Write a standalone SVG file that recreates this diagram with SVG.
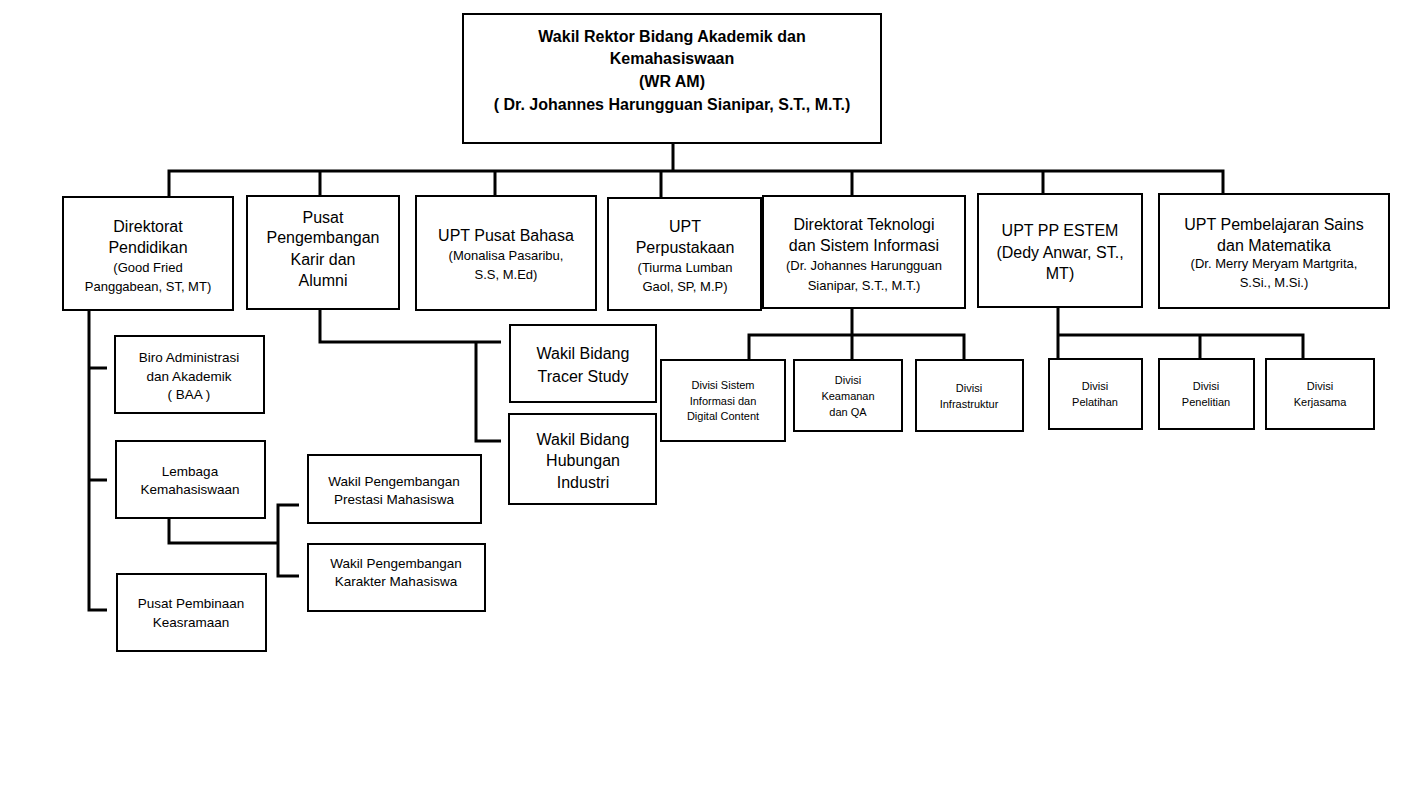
<svg xmlns="http://www.w3.org/2000/svg" width="1409" height="798" viewBox="0 0 1409 798">
<style>
.box{fill:#fff;stroke:#000;stroke-width:2}
.ln{fill:none;stroke:#000;stroke-width:3}
text{font-family:"Liberation Sans",Arial,sans-serif;fill:#000;text-anchor:middle}
.t{font-size:16px}
.b{font-size:16px;font-weight:bold}
.s{font-size:13px}
.m{font-size:13.5px}
.d{font-size:11px}
</style>
<rect x="0" y="0" width="1409" height="798" fill="#fff"/>
<g id="connectors">
<path class="ln" d="M673 143V171M169 197V171H1223V194M320 171V196M495 171V196M661 171V198M852 171V196M1043 171V194"/>
<path class="ln" d="M89 310V610H107M89 368H107M89 480H107"/>
<path class="ln" d="M169 518V543H278M299 505H278V576H299"/>
<path class="ln" d="M320 309V342H501M476 342V441H501"/>
<path class="ln" d="M852 308V335M749 359V335H964V360M852 335V360"/>
<path class="ln" d="M1058 307V358M1058 335H1303V358M1200 335V358"/>
</g>
<g id="wr-am">
<rect class="box" x="463" y="14" width="418" height="129"/>
<text class="b" x="672" y="42">Wakil Rektor Bidang Akademik dan</text>
<text class="b" x="672" y="64">Kemahasiswaan</text>
<text class="b" x="672" y="87">(WR AM)</text>
<text class="b" x="672" y="110">( Dr. Johannes Harungguan Sianipar, S.T., M.T.)</text>
</g>
<g id="dir-pendidikan">
<rect class="box" x="63" y="197" width="170" height="113"/>
<text class="t" x="148" y="232">Direktorat</text>
<text class="t" x="148" y="253">Pendidikan</text>
<text class="s" x="148" y="272">(Good Fried</text>
<text class="s" x="148" y="291">Panggabean, ST, MT)</text>
</g>
<g id="pusat-karir">
<rect class="box" x="247" y="196" width="152" height="113"/>
<text class="t" x="323" y="223">Pusat</text>
<text class="t" x="323" y="243">Pengembangan</text>
<text class="t" x="323" y="265">Karir dan</text>
<text class="t" x="323" y="286">Alumni</text>
</g>
<g id="upt-bahasa">
<rect class="box" x="416" y="196" width="180" height="114"/>
<text class="t" x="506" y="241">UPT Pusat Bahasa</text>
<text class="s" x="506" y="260">(Monalisa Pasaribu,</text>
<text class="s" x="506" y="279">S.S, M.Ed)</text>
</g>
<g id="upt-perpustakaan">
<rect class="box" x="608" y="198" width="153" height="112"/>
<text class="t" x="685" y="232">UPT</text>
<text class="t" x="685" y="253">Perpustakaan</text>
<text class="s" x="685" y="272">(Tiurma Lumban</text>
<text class="s" x="685" y="291">Gaol, SP, M.P)</text>
</g>
<g id="dir-teknologi">
<rect class="box" x="763" y="196" width="202" height="112"/>
<text class="t" x="864" y="230">Direktorat Teknologi</text>
<text class="t" x="864" y="251">dan Sistem Informasi</text>
<text class="s" x="864" y="270">(Dr. Johannes Harungguan</text>
<text class="s" x="864" y="290">Sianipar, S.T., M.T.)</text>
</g>
<g id="upt-estem">
<rect class="box" x="978" y="194" width="164" height="113"/>
<text class="t" x="1060" y="236">UPT PP ESTEM</text>
<text class="t" x="1060" y="258">(Dedy Anwar, ST.,</text>
<text class="t" x="1060" y="279">MT)</text>
</g>
<g id="upt-sains">
<rect class="box" x="1159" y="194" width="230" height="114"/>
<text class="t" x="1274" y="230">UPT Pembelajaran Sains</text>
<text class="t" x="1274" y="251">dan Matematika</text>
<text class="s" x="1274" y="268">(Dr. Merry Meryam Martgrita,</text>
<text class="s" x="1274" y="287">S.Si., M.Si.)</text>
</g>
<g id="baa">
<rect class="box" x="115" y="336" width="149" height="77"/>
<text class="m" x="189" y="362">Biro Administrasi</text>
<text class="m" x="189" y="381">dan Akademik</text>
<text class="m" x="189" y="399">( BAA )</text>
</g>
<g id="lembaga">
<rect class="box" x="116" y="441" width="149" height="77"/>
<text class="m" x="190" y="476">Lembaga</text>
<text class="m" x="190" y="494">Kemahasiswaan</text>
</g>
<g id="keasramaan">
<rect class="box" x="117" y="574" width="149" height="77"/>
<text class="m" x="191" y="608">Pusat Pembinaan</text>
<text class="m" x="191" y="627">Keasramaan</text>
</g>
<g id="wakil-prestasi">
<rect class="box" x="308" y="455" width="173" height="68"/>
<text class="m" x="394" y="486">Wakil Pengembangan</text>
<text class="m" x="394" y="504">Prestasi Mahasiswa</text>
</g>
<g id="wakil-karakter">
<rect class="box" x="308" y="544" width="177" height="67"/>
<text class="m" x="396" y="568">Wakil Pengembangan</text>
<text class="m" x="396" y="586">Karakter Mahasiswa</text>
</g>
<g id="wakil-tracer">
<rect class="box" x="510" y="325" width="146" height="77"/>
<text class="t" x="583" y="359">Wakil Bidang</text>
<text class="t" x="583" y="382">Tracer Study</text>
</g>
<g id="wakil-industri">
<rect class="box" x="509" y="414" width="147" height="90"/>
<text class="t" x="583" y="445">Wakil Bidang</text>
<text class="t" x="583" y="466">Hubungan</text>
<text class="t" x="583" y="488">Industri</text>
</g>
<g id="div-si">
<rect class="box" x="661" y="360" width="124" height="81"/>
<text class="d" x="723" y="389">Divisi Sistem</text>
<text class="d" x="723" y="405">Informasi dan</text>
<text class="d" x="723" y="420">Digital Content</text>
</g>
<g id="div-keamanan">
<rect class="box" x="794" y="360" width="108" height="71"/>
<text class="d" x="848" y="384">Divisi</text>
<text class="d" x="848" y="400">Keamanan</text>
<text class="d" x="848" y="416">dan QA</text>
</g>
<g id="div-infrastruktur">
<rect class="box" x="916" y="360" width="107" height="71"/>
<text class="d" x="969" y="392">Divisi</text>
<text class="d" x="969" y="408">Infrastruktur</text>
</g>
<g id="div-pelatihan">
<rect class="box" x="1049" y="359" width="93" height="70"/>
<text class="d" x="1095" y="390">Divisi</text>
<text class="d" x="1095" y="406">Pelatihan</text>
</g>
<g id="div-penelitian">
<rect class="box" x="1159" y="359" width="95" height="70"/>
<text class="d" x="1206" y="390">Divisi</text>
<text class="d" x="1206" y="406">Penelitian</text>
</g>
<g id="div-kerjasama">
<rect class="box" x="1266" y="359" width="108" height="70"/>
<text class="d" x="1320" y="390">Divisi</text>
<text class="d" x="1320" y="406">Kerjasama</text>
</g>
</svg>
